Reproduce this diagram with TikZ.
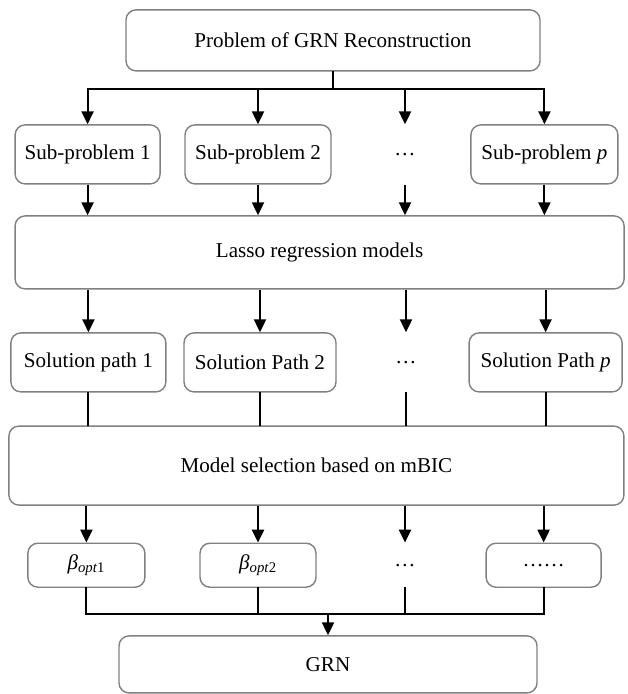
\documentclass[tikz,border=0pt]{standalone}
\usepackage{fontspec}
\setmainfont{Liberation Serif}
\usetikzlibrary{arrows.meta}
\tikzset{
  box/.style={draw=black!50, line width=1pt, rounded corners=0.25cm, align=center, font=\fontsize{15}{18}\selectfont},
  dotnode/.style={font=\fontsize{15}{18}\selectfont},
  arr/.style={-{Triangle[length=3.2mm,width=3mm]}, line width=1.4pt},
  link/.style={line width=1.4pt, line cap=rect}
}
\begin{document}
\begin{tikzpicture}
\useasboundingbox (0,0) rectangle (15.675,-17.35);
\node[box, minimum width=10.35cm, minimum height=1.525cm] (prob) at (8.325,-1.01) {Problem of GRN Reconstruction};
\node[box, minimum width=3.625cm, minimum height=1.475cm] (sub1) at (2.19,-3.86) {Sub-problem 1};
\node[box, minimum width=3.65cm, minimum height=1.475cm] (sub2) at (6.45,-3.86) {Sub-problem 2};
\node[dotnode] (subd) at (10.125,-3.86) {\dots};
\node[box, minimum width=3.675cm, minimum height=1.475cm] (subp) at (13.61,-3.86) {Sub-problem \textit{p}};
\node[box, minimum width=15.225cm, minimum height=1.825cm] (lasso) at (7.99,-6.31) {Lasso regression models};
\node[box, minimum width=3.875cm, minimum height=1.475cm] (sol1) at (2.21,-9.06) {Solution path 1};
\node[box, minimum width=3.8cm, minimum height=1.475cm] (sol2) at (6.5,-9.06) {Solution Path 2};
\node[dotnode] (sold) at (10.15,-9.06) {\dots};
\node[box, minimum width=3.825cm, minimum height=1.475cm] (solp) at (13.64,-9.06) {Solution Path \textit{p}};
\node[box, minimum width=15.375cm, minimum height=1.975cm] (mbic) at (7.91,-11.64) {Model selection based on mBIC};
\node[box, minimum width=2.925cm, minimum height=1.1cm] (beta1) at (2.16,-14.13) {\textit{β}\textsubscript{\textit{opt}1}};
\node[box, minimum width=2.9cm, minimum height=1.1cm] (beta2) at (6.45,-14.13) {\textit{β}\textsubscript{\textit{opt}2}};
\node[dotnode] (betad) at (10.125,-14.13) {\dots};
\node[box, minimum width=2.875cm, minimum height=1.1cm] (betap) at (13.59,-14.13) {\dots\dots};
\node[box, minimum width=10.45cm, minimum height=1.425cm] (grn) at (8.2,-16.61) {GRN};
\coordinate (bus1) at (8.325,-2.225);
\coordinate (bus2) at (8.2,-15.35);
% split into sub-problems
\draw[link] (prob) -- (bus1);
\draw[link] (sub1 |- bus1) -- (subp |- bus1);
\foreach \n in {sub1,sub2,subd,subp}
  \draw[arr] (\n |- bus1) -- (\n |- sub1.north);
\foreach \n in {sub1,sub2,subd,subp}
  \draw[arr] (\n |- sub1.south) -- (\n |- lasso.north);
% lasso to solution paths
\foreach \n in {sol1,sol2,sold,solp}
  \draw[arr] (\n |- lasso.south) -- (\n |- sol1.north);
\foreach \n in {sol1,sol2,sold,solp}
  \draw[link] (\n |- sol1.south) -- (\n |- mbic.north);
% selection
\foreach \n in {beta1,beta2,betad,betap}
  \draw[arr] (\n |- mbic.south) -- (\n |- beta1.north);
\foreach \n in {beta1,beta2,betad,betap}
  \draw[link] (\n |- beta1.south) -- (\n |- bus2);
\draw[link] (beta1 |- bus2) -- (betap |- bus2);
\draw[arr] (bus2) -- (grn);
\end{tikzpicture}
\end{document}
